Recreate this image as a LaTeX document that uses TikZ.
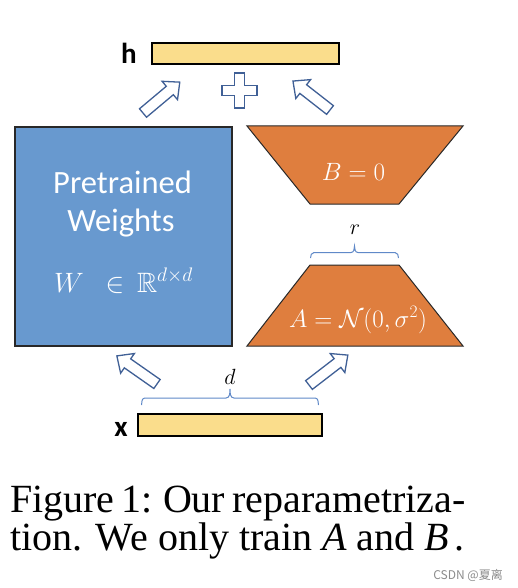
\RequirePackage{fix-cm}
\documentclass[tikz,border=0pt]{standalone}
\usepackage{amssymb}
\usepackage{fontspec}
\newfontfamily\calibri{Carlito}
\newfontfamily\timesf{Liberation Serif}
\newfontfamily\cjk{Noto Sans CJK SC}
\definecolor{wblue}{RGB}{104,153,207}
\definecolor{orng}{RGB}{223,126,62}
\definecolor{ylw}{RGB}{250,221,140}
\definecolor{ablue}{RGB}{64,96,150}
\definecolor{bblue}{RGB}{96,137,200}
\definecolor{edge}{RGB}{40,40,40}
\newcommand\blockarr[3]{%
  \draw[barrow, shift={#1}, rotate=#2] (0,-5.5) -- ({#3-13},-5.5) -- ({#3-13},-12) -- (#3,0) -- ({#3-13},12) -- ({#3-13},5.5) -- (0,5.5) -- cycle;}
\begin{document}
\begin{tikzpicture}[x=1pt,y=-1pt,
  barrow/.style={draw=ablue, fill=white, line width=1.3pt, line join=miter},
  bar/.style={draw=black, fill=ylw, line width=1.4pt, inner sep=0pt},
  lbl/.style={font=\calibri\bfseries\fontsize{29}{32}\selectfont, inner sep=0pt},
  wbox/.style={draw=edge, fill=wblue, line width=1.2pt, inner sep=0pt},
  wtext/.style={text=white, font=\calibri\fontsize{32.5}{36}\selectfont, inner sep=0pt},
  mtext/.style={text=white, font=\fontsize{25}{28}\selectfont, inner sep=0pt},
  trap/.style={draw=edge, fill=orng, line width=1pt},
  brace/.style={draw=bblue, line width=1pt},
  blbl/.style={font=\fontsize{22}{26}\selectfont, inner sep=0pt},
  captext/.style={font=\timesf\fontsize{40}{42}\selectfont, inner sep=0pt},
  wm/.style={text=black!45, font=\cjk\fontsize{12}{14}\selectfont, inner sep=0pt}]
\useasboundingbox (0,0) rectangle (518,588);
\fill[white] (0,0) rectangle (518,588);
% h
\node[bar, minimum width=187pt, minimum height=21pt] (h) at (245.5,53.5) {};
\node[lbl, anchor=base east] (hl) at (137,64) {h};
% plus
\draw[barrow, shift={(239.5,90.5)}] (-5,-17.5) -- (5,-17.5) -- (5,-5) -- (17.5,-5) -- (17.5,5) -- (5,5) -- (5,17.5) -- (-5,17.5) -- (-5,5) -- (-17.5,5) -- (-17.5,-5) -- (-5,-5) -- cycle;
% upper arrows
\blockarr{(143,113)}{40}{48}
\blockarr{(330,110)}{142}{47}
% W box
\node[wbox, minimum width=217pt, minimum height=219pt] (W) at (123.5,236.5) {};
\node[wtext, anchor=base] (t1) at (122.5,193) {Pretrained};
\node[wtext, anchor=base] (t2) at (121,231) {Weights};
\node[mtext, font=\fontsize{28}{32}\selectfont, anchor=base] (t3) at (123.5,292) {$W\hspace{14pt}\in\hspace{5pt}\mathbb{R}^{d\times d}$};
% B trapezoid
\draw[trap] (247,126) coordinate (b1) -- (463,126) coordinate (b2) -- (399,204) coordinate (b3) -- (310,204) coordinate (b4) -- cycle;
\node[mtext, anchor=base] (Bt) at (353.5,180) {$B=0$};
% r brace
\draw[brace] (310.5,258) to[out=90,in=180] (314,252.5) -- (351,252.5) to[out=0,in=-90] (354.5,246) coordinate (rtip) to[out=-90,in=180] (358,252.5) -- (395,252.5) to[out=0,in=90] (398.5,258);
\node[blbl, anchor=base] (r) at (355,234) {$r$};
% A trapezoid
\draw[trap] (310,265) coordinate (a1) -- (399,265) coordinate (a2) -- (463,346) coordinate (a3) -- (247,346) coordinate (a4) -- cycle;
\node[mtext, anchor=base] (At) at (358,327) {$A=\mathcal{N}(0,\sigma^2)$};
% lower arrows
\blockarr{(157,384)}{145}{49}
\blockarr{(309,385)}{37.6}{49}
% d brace
\draw[brace] (141.5,405) to[out=90,in=180] (145,398) -- (226,398) to[out=0,in=-90] (230,389) coordinate (dtip) to[out=-90,in=180] (234,398) -- (315,398) to[out=0,in=90] (318.5,405);
\node[blbl, anchor=base] (d) at (230,384) {$d$};
% x
\node[bar, minimum width=184pt, minimum height=22pt] (x) at (230,425) {};
\node[lbl, anchor=base east] (xl) at (128,436) {x};
% caption
\node[captext, anchor=base west] (c1) at (10,512) {\spaceskip=7pt plus 2pt minus 2pt Figure 1: Our reparametriza-};
\node[captext, anchor=base west] (c2) at (10,550) {tion. We only train {\itshape A} and {\itshape B}\hspace{5pt}.};
\node[wm, anchor=base east] (wmk) at (503,579) {CSDN @夏离};
\end{tikzpicture}
\end{document}
